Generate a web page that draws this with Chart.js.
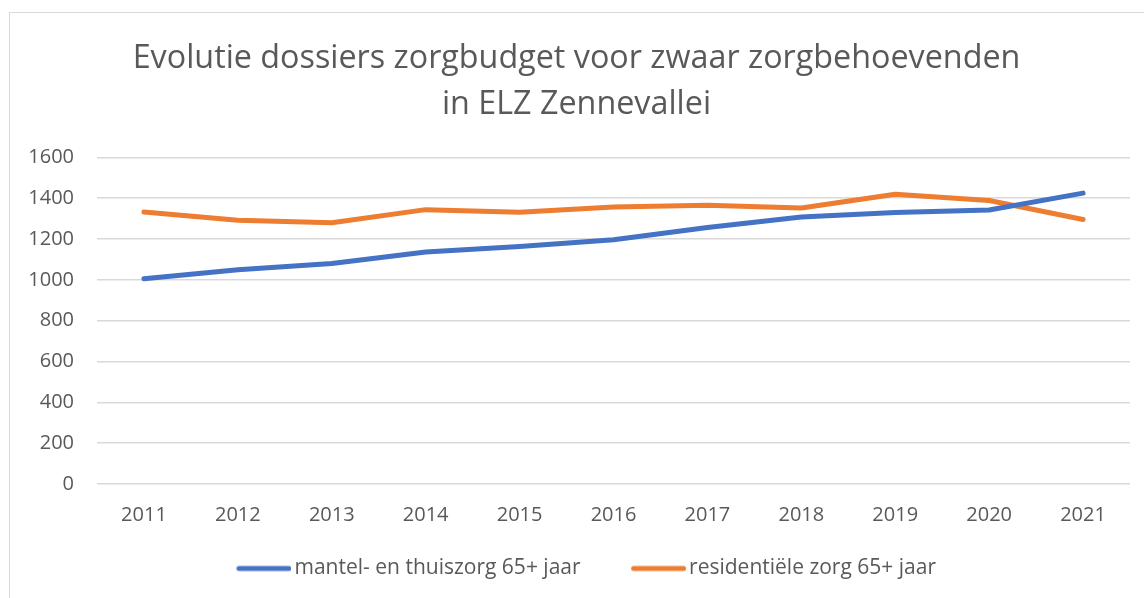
<!DOCTYPE html>
<html>
<head>
<meta charset="utf-8">
<script src="https://cdn.jsdelivr.net/npm/chart.js@4/dist/chart.umd.min.js"></script>
<style>
  html, body { margin: 0; padding: 0; background: #fff; overflow: hidden; }
  #frame {
    position: absolute; left: 9px; top: 12px; width: 1300px; height: 700px;
    border-left: 1.5px solid #d9d9d9; border-top: 1.5px solid #d9d9d9;
  }
  #wrap { position: absolute; left: 0; top: 0; width: 1144px; height: 598px; }
</style>
</head>
<body>
<div id="frame"></div>
<div id="wrap"><canvas id="chart" width="1144" height="598"></canvas></div>
<script>
// Years on the x axis
const years = ['2011', '2012', '2013', '2014', '2015', '2016', '2017', '2018', '2019', '2020', '2021'];

// Number of dossiers per year
const mantelThuiszorg = [1005, 1050, 1080, 1137, 1164, 1197, 1256, 1308, 1330, 1342, 1425];
const residentieleZorg = [1332, 1292, 1280, 1344, 1331, 1357, 1365, 1352, 1419, 1389, 1296];

const seriesNames = ['mantel- en thuiszorg 65+ jaar', 'residentiële zorg 65+ jaar'];
const titleLines = ['Evolutie dossiers zorgbudget voor zwaar zorgbehoevenden', 'in ELZ Zennevallei'];

const textColor = '#595959';
const fontFamily = '"Open Sans", "Noto Sans", sans-serif';
const legendBoxWidth = 67;

// Legend sample: a thick line that sits right against the label text
function legendLine(color) {
    const c = document.createElement('canvas');
    c.width = legendBoxWidth + 15;
    c.height = 8;
    const g = c.getContext('2d');
    g.strokeStyle = color;
    g.lineWidth = 5;
    g.lineCap = 'round';
    g.beginPath();
    g.moveTo(c.width - 55 + 2.5, 4);
    g.lineTo(c.width - 2.5, 4);
    g.stroke();
    return c;
}

const ctx = document.getElementById('chart').getContext('2d');
const chart = new Chart(ctx, {
    type: 'line',
    data: {
        labels: years,
        datasets: [{
            label: seriesNames[0],
            data: mantelThuiszorg,
            borderColor: '#4472C4',
            backgroundColor: '#4472C4',
            borderWidth: 5,
            borderCapStyle: 'round',
            borderJoinStyle: 'round',
            pointRadius: 0,
            pointStyle: legendLine('#4472C4'),
            tension: 0
        }, {
            label: seriesNames[1],
            data: residentieleZorg,
            borderColor: '#ED7D31',
            backgroundColor: '#ED7D31',
            borderWidth: 5,
            borderCapStyle: 'round',
            borderJoinStyle: 'round',
            pointRadius: 0,
            pointStyle: legendLine('#ED7D31'),
            tension: 0
        }]
    },
    options: {
        responsive: false,
        animation: false,
        layout: {
            padding: { left: 23, right: 14, top: 0, bottom: 9 }
        },
        scales: {
            x: {
                offset: true,
                grid: { display: false, drawTicks: false },
                border: { display: false },
                ticks: {
                    color: textColor,
                    font: { family: fontFamily, size: 20 },
                    padding: 19,
                    maxRotation: 0
                },
                afterFit: axis => { axis.height = 43; }
            },
            y: {
                min: 0,
                max: 1600,
                grid: { color: '#d9d9d9', lineWidth: 1.5, drawTicks: false },
                border: { display: false },
                ticks: {
                    stepSize: 200,
                    color: textColor,
                    font: { family: fontFamily, size: 20 },
                    padding: 23,
                    callback: value => String(value)
                },
                afterFit: axis => { axis.width = 74; }
            }
        },
        plugins: {
            title: {
                display: true,
                text: titleLines,
                color: textColor,
                font: { family: fontFamily, size: 32.3, weight: 'normal', lineHeight: 1.43 },
                padding: { top: 36, bottom: 29 }
            },
            legend: {
                position: 'bottom',
                labels: {
                    usePointStyle: true,
                    pointStyleWidth: legendBoxWidth,
                    boxHeight: 21,
                    color: textColor,
                    font: { family: fontFamily, size: 21 },
                    padding: 31
                }
            },
            tooltip: { enabled: false }
        }
    }
});
</script>
</body>
</html>
